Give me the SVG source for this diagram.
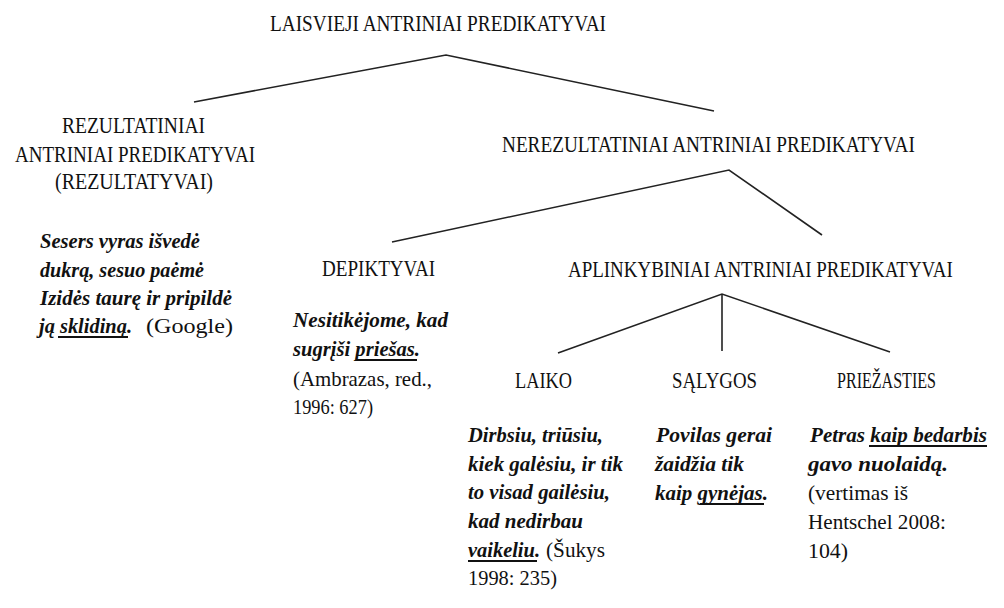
<svg xmlns="http://www.w3.org/2000/svg" width="1004" height="608" viewBox="0 0 1004 608">
<style>
.h{font-family:"Liberation Serif","DejaVu Serif",serif;font-size:24px;fill:#111}
.e{font-family:"Liberation Serif","DejaVu Serif",serif;font-size:22px;fill:#111}
.b{font-weight:bold;font-style:italic}
.c{fill:none;stroke:#222;stroke-width:1.6;stroke-linejoin:miter}
.ul{stroke:#111;stroke-width:1.8}
</style>
<rect width="1004" height="608" fill="#fff"/>
<g id="connectors">
<polyline class="c" points="194,102 446,55 714,111"/>
<polyline class="c" points="392,242 729,170 822,235"/>
<polyline class="c" points="558,353 722,294 890,352"/>
<line class="c" x1="722" y1="294" x2="722" y2="351"/>
</g>
<g id="root">
<text class="h" x="270" y="31" textLength="336" lengthAdjust="spacingAndGlyphs">LAISVIEJI ANTRINIAI PREDIKATYVAI</text>
</g>
<g id="rezultatyvai">
<text class="h" x="62" y="133" textLength="143" lengthAdjust="spacingAndGlyphs">REZULTATINIAI</text>
<text class="h" x="15" y="162" textLength="240" lengthAdjust="spacingAndGlyphs">ANTRINIAI PREDIKATYVAI</text>
<text class="h" x="55" y="189" textLength="158" lengthAdjust="spacingAndGlyphs">(REZULTATYVAI)</text>
<text class="e b" x="40" y="248" textLength="160" lengthAdjust="spacingAndGlyphs">Sesers vyras išvedė</text>
<text class="e b" x="40" y="277" textLength="164" lengthAdjust="spacingAndGlyphs">dukrą, sesuo paėmė</text>
<text class="e b" x="40" y="305" textLength="192" lengthAdjust="spacingAndGlyphs">Izidės taurę ir pripildė</text>
<text class="e b" x="39" y="333" textLength="93" lengthAdjust="spacingAndGlyphs">ją sklidiną.</text>
<text class="e" x="146" y="333" textLength="87" lengthAdjust="spacingAndGlyphs">(Google)</text>
<line class="ul" x1="58" y1="337" x2="128" y2="337"/>
</g>
<g id="nerezultatyvai">
<text class="h" transform="scale(0.8,1)" x="627.5" y="152" textLength="516" lengthAdjust="spacingAndGlyphs">NEREZULTATINIAI ANTRINIAI PREDIKATYVAI</text>
</g>
<g id="depiktyvai">
<text class="h" x="322" y="276" textLength="113" lengthAdjust="spacingAndGlyphs">DEPIKTYVAI</text>
<text class="e b" x="293" y="327" textLength="155" lengthAdjust="spacingAndGlyphs">Nesitikėjome, kad</text>
<text class="e b" x="293" y="356" textLength="127" lengthAdjust="spacingAndGlyphs">sugrįši priešas.</text>
<line class="ul" x1="357" y1="360" x2="417" y2="360"/>
<text class="e" x="293" y="386" textLength="139" lengthAdjust="spacingAndGlyphs">(Ambrazas, red.,</text>
<text class="e" x="293" y="414" textLength="80" lengthAdjust="spacingAndGlyphs">1996: 627)</text>
</g>
<g id="aplinkybiniai">
<text class="h" transform="scale(0.8,1)" x="710" y="277" textLength="481" lengthAdjust="spacingAndGlyphs">APLINKYBINIAI ANTRINIAI PREDIKATYVAI</text>
</g>
<g id="laiko">
<text class="h" x="515" y="388" textLength="57" lengthAdjust="spacingAndGlyphs">LAIKO</text>
<text class="e b" x="468" y="442" textLength="135" lengthAdjust="spacingAndGlyphs">Dirbsiu, triūsiu,</text>
<text class="e b" x="468" y="471" textLength="155" lengthAdjust="spacingAndGlyphs">kiek galėsiu, ir tik</text>
<text class="e b" x="468" y="499" textLength="142" lengthAdjust="spacingAndGlyphs">to visad gailėsiu,</text>
<text class="e b" x="468" y="528" textLength="115" lengthAdjust="spacingAndGlyphs">kad nedirbau</text>
<text class="e b" x="468" y="557" textLength="72" lengthAdjust="spacingAndGlyphs">vaikeliu.</text>
<text class="e" x="546" y="557" textLength="59" lengthAdjust="spacingAndGlyphs">(Šukys</text>
<line class="ul" x1="468" y1="561" x2="537" y2="561"/>
<text class="e" x="468" y="585" textLength="89" lengthAdjust="spacingAndGlyphs">1998: 235)</text>
</g>
<g id="salygos">
<text class="h" x="672" y="388" textLength="85" lengthAdjust="spacingAndGlyphs">SĄLYGOS</text>
<text class="e b" x="656" y="442" textLength="116" lengthAdjust="spacingAndGlyphs">Povilas gerai</text>
<text class="e b" x="655" y="471" textLength="89" lengthAdjust="spacingAndGlyphs">žaidžia tik</text>
<text class="e b" x="655" y="500" textLength="113" lengthAdjust="spacingAndGlyphs">kaip gynėjas.</text>
<line class="ul" x1="700" y1="504" x2="764" y2="504"/>
</g>
<g id="priezasties">
<text class="h" x="837" y="388" textLength="99" lengthAdjust="spacingAndGlyphs">PRIEŽASTIES</text>
<text class="e b" x="810" y="442" textLength="177" lengthAdjust="spacingAndGlyphs">Petras kaip bedarbis</text>
<line class="ul" x1="869" y1="446" x2="987" y2="446"/>
<text class="e b" x="808" y="471" textLength="140" lengthAdjust="spacingAndGlyphs">gavo nuolaidą.</text>
<text class="e" x="808" y="500" textLength="100" lengthAdjust="spacingAndGlyphs">(vertimas iš</text>
<text class="e" x="808" y="529" textLength="138" lengthAdjust="spacingAndGlyphs">Hentschel 2008:</text>
<text class="e" x="808" y="558" textLength="40" lengthAdjust="spacingAndGlyphs">104)</text>
</g>
</svg>
